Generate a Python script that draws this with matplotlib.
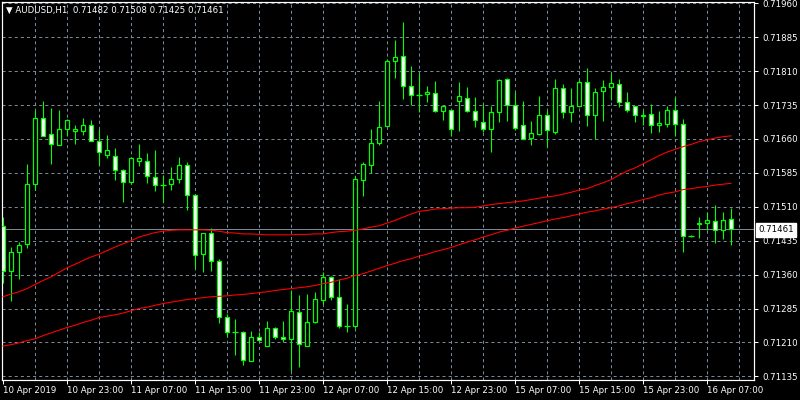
import matplotlib
matplotlib.use("Agg")
import matplotlib.pyplot as plt
from matplotlib.patches import Rectangle

# ---------------- data ----------------
symbol_title = "AUDUSD,H1  0.71482 0.71508 0.71425 0.71461"

opens = [0.71468, 0.71367, 0.71409, 0.71428, 0.71561, 0.71707, 0.71670, 0.71647, 0.71681, 0.71678,
         0.71678, 0.71690, 0.71656, 0.71624, 0.71623, 0.71592, 0.71564, 0.71611, 0.71612, 0.71576,
         0.71559, 0.71561, 0.71572, 0.71603, 0.71537, 0.71405, 0.71452, 0.71390, 0.71266, 0.71232,
         0.71232, 0.71170, 0.71223, 0.71203, 0.71243, 0.71223, 0.71218, 0.71277, 0.71203, 0.71255,
         0.71303, 0.71354, 0.71310, 0.71246, 0.71246, 0.71569, 0.71602, 0.71652, 0.71689, 0.71833,
         0.71843, 0.71778, 0.71758, 0.71760, 0.71761, 0.71723, 0.71725, 0.71743, 0.71750, 0.71723,
         0.71698, 0.71681, 0.71719, 0.71792, 0.71736, 0.71690, 0.71663, 0.71670, 0.71712, 0.71676,
         0.71772, 0.71719, 0.71732, 0.71787, 0.71712, 0.71767, 0.71774, 0.71781, 0.71742, 0.71732,
         0.71710, 0.71716, 0.71690, 0.71694, 0.71725, 0.71694, 0.71445, 0.71472, 0.71474, 0.71479,
         0.71459, 0.71482]
highs = [0.71487, 0.71422, 0.71433, 0.71604, 0.71724, 0.71743, 0.71728, 0.71725, 0.71704, 0.71692,
         0.71706, 0.71701, 0.71681, 0.71668, 0.71639, 0.71594, 0.71620, 0.71650, 0.71630, 0.71636,
         0.71581, 0.71599, 0.71621, 0.71608, 0.71539, 0.71452, 0.71463, 0.71394, 0.71272, 0.71261,
         0.71235, 0.71236, 0.71232, 0.71257, 0.71244, 0.71257, 0.71326, 0.71315, 0.71317, 0.71322,
         0.71366, 0.71357, 0.71350, 0.71294, 0.71579, 0.71609, 0.71681, 0.71743, 0.71837, 0.71879,
         0.71919, 0.71821, 0.71805, 0.71777, 0.71788, 0.71733, 0.71726, 0.71787, 0.71774, 0.71752,
         0.71738, 0.71734, 0.71792, 0.71794, 0.71765, 0.71743, 0.71699, 0.71756, 0.71725, 0.71792,
         0.71781, 0.71772, 0.71790, 0.71816, 0.71772, 0.71790, 0.71805, 0.71792, 0.71763, 0.71733,
         0.71725, 0.71738, 0.71721, 0.71732, 0.71752, 0.71705, 0.71448, 0.71488, 0.71499, 0.71515,
         0.71499, 0.71508]
lows = [0.71341, 0.71302, 0.71351, 0.71418, 0.71548, 0.71666, 0.71604, 0.71646, 0.71666, 0.71650,
        0.71669, 0.71655, 0.71603, 0.71618, 0.71569, 0.71520, 0.71561, 0.71600, 0.71562, 0.71544,
        0.71520, 0.71547, 0.71563, 0.71502, 0.71374, 0.71365, 0.71367, 0.71252, 0.71223, 0.71183,
        0.71159, 0.71169, 0.71213, 0.71202, 0.71217, 0.71210, 0.71147, 0.71156, 0.71202, 0.71252,
        0.71294, 0.71303, 0.71243, 0.71232, 0.71242, 0.71533, 0.71585, 0.71647, 0.71688, 0.71795,
        0.71749, 0.71736, 0.71720, 0.71741, 0.71719, 0.71703, 0.71667, 0.71678, 0.71719, 0.71687,
        0.71675, 0.71631, 0.71698, 0.71700, 0.71680, 0.71660, 0.71647, 0.71668, 0.71643, 0.71670,
        0.71706, 0.71698, 0.71731, 0.71689, 0.71661, 0.71700, 0.71747, 0.71730, 0.71719, 0.71698,
        0.71692, 0.71674, 0.71676, 0.71687, 0.71667, 0.71411, 0.71443, 0.71440, 0.71459, 0.71430,
        0.71439, 0.71425]
closes = [0.71367, 0.71410, 0.71425, 0.71561, 0.71707, 0.71667, 0.71650, 0.71681, 0.71703, 0.71681,
          0.71690, 0.71656, 0.71631, 0.71636, 0.71592, 0.71564, 0.71619, 0.71619, 0.71579, 0.71559,
          0.71558, 0.71572, 0.71603, 0.71537, 0.71403, 0.71452, 0.71390, 0.71266, 0.71232, 0.71233,
          0.71172, 0.71223, 0.71215, 0.71243, 0.71223, 0.71217, 0.71279, 0.71206, 0.71255, 0.71306,
          0.71354, 0.71310, 0.71246, 0.71246, 0.71572, 0.71605, 0.71652, 0.71687, 0.71832, 0.71841,
          0.71778, 0.71758, 0.71757, 0.71764, 0.71723, 0.71732, 0.71683, 0.71754, 0.71723, 0.71701,
          0.71681, 0.71719, 0.71790, 0.71736, 0.71685, 0.71661, 0.71674, 0.71712, 0.71679, 0.71772,
          0.71719, 0.71732, 0.71787, 0.71712, 0.71765, 0.71774, 0.71783, 0.71741, 0.71724, 0.71712,
          0.71714, 0.71690, 0.71696, 0.71725, 0.71694, 0.71445, 0.71445, 0.71474, 0.71481, 0.71459,
          0.71481, 0.71461]

ma_fast = [0.71311, 0.71317, 0.71322, 0.71329, 0.71338, 0.71347, 0.71355, 0.71365, 0.71375, 0.71383,
           0.71391, 0.71399, 0.71405, 0.71413, 0.71421, 0.71428, 0.71435, 0.71443, 0.71448, 0.71453,
           0.71456, 0.71458, 0.71459, 0.71459, 0.71459, 0.71459, 0.71458, 0.71456, 0.71453, 0.71452,
           0.71450, 0.71450, 0.71449, 0.71448, 0.71448, 0.71448, 0.71448, 0.71449, 0.71449, 0.71450,
           0.71450, 0.71453, 0.71455, 0.71456, 0.71458, 0.71461, 0.71465, 0.71468, 0.71474, 0.71480,
           0.71487, 0.71494, 0.71500, 0.71502, 0.71505, 0.71506, 0.71507, 0.71508, 0.71508, 0.71509,
           0.71512, 0.71515, 0.71517, 0.71519, 0.71521, 0.71523, 0.71526, 0.71529, 0.71532, 0.71534,
           0.71538, 0.71542, 0.71547, 0.71550, 0.71557, 0.71563, 0.71570, 0.71580, 0.71589, 0.71596,
           0.71605, 0.71614, 0.71623, 0.71631, 0.71637, 0.71643, 0.71648, 0.71654, 0.71658, 0.71662,
           0.71665, 0.71667]
ma_slow = [0.71202, 0.71205, 0.71209, 0.71214, 0.71218, 0.71225, 0.71231, 0.71237, 0.71243, 0.71248,
           0.71254, 0.71259, 0.71265, 0.71268, 0.71271, 0.71275, 0.71280, 0.71285, 0.71288, 0.71292,
           0.71296, 0.71299, 0.71302, 0.71305, 0.71307, 0.71309, 0.71311, 0.71312, 0.71313, 0.71315,
           0.71316, 0.71318, 0.71320, 0.71322, 0.71325, 0.71327, 0.71329, 0.71331, 0.71333, 0.71336,
           0.71340, 0.71343, 0.71348, 0.71352, 0.71358, 0.71362, 0.71368, 0.71374, 0.71380, 0.71385,
           0.71391, 0.71395, 0.71401, 0.71405, 0.71411, 0.71415, 0.71420, 0.71426, 0.71432, 0.71437,
           0.71443, 0.71448, 0.71454, 0.71458, 0.71463, 0.71467, 0.71471, 0.71475, 0.71479, 0.71483,
           0.71486, 0.71490, 0.71494, 0.71498, 0.71501, 0.71505, 0.71508, 0.71512, 0.71517, 0.71521,
           0.71526, 0.71530, 0.71536, 0.71540, 0.71543, 0.71548, 0.71550, 0.71553, 0.71555, 0.71558,
           0.71560, 0.71562]

time_labels = ["10 Apr 2019", "10 Apr 23:00", "11 Apr 07:00", "11 Apr 15:00", "11 Apr 23:00",
               "12 Apr 07:00", "12 Apr 15:00", "12 Apr 23:00", "15 Apr 07:00", "15 Apr 15:00",
               "15 Apr 23:00", "16 Apr 07:00"]
price_ticks = [0.71960, 0.71885, 0.71810, 0.71735, 0.71660, 0.71585, 0.71510,
               0.71435, 0.71360, 0.71285, 0.71210, 0.71135]
last_price = 0.71461

# ---------------- style ----------------
BG = "black"
FG = "white"
CANDLE = "#00FF00"
GRID = "#778899"
MA_COLOR = "#FF0000"
PX = 72 / 100.0  # one pixel in points
plt.rcParams["lines.scale_dashes"] = False
plt.rcParams["font.family"] = ["DejaVu Sans"]

W, H = 800, 400
fig = plt.figure(figsize=(W / 100, H / 100), dpi=100, facecolor=BG)
left_px, right_px, top_px, bottom_px = 2, 754, 2, 379.5
ax = fig.add_axes([left_px / W, (H - bottom_px) / H, (right_px - left_px) / W, (bottom_px - top_px) / H])
ax.set_facecolor(BG)

n = len(closes)
xs = list(range(n))
ax.set_xlim(-0.125, -0.125 + (right_px - left_px) / 8.0)
ax.set_ylim(0.71128, 0.71963)

# grid
for p in price_ticks:
    ax.axhline(p, color=GRID, lw=PX, dashes=(2.2, 2.2), zorder=0)
for k in range(4, 96, 4):
    ax.axvline(k, color=GRID, lw=PX, dashes=(2.2, 2.2), zorder=0)

# bid line
ax.axhline(last_price, color=GRID, lw=PX, zorder=1)

# candles
body_w = 0.5
for k in xs:
    o, h, l, c = opens[k], highs[k], lows[k], closes[k]
    ax.vlines(k, l, h, colors=CANDLE, lw=PX * 1.1, zorder=2)
    if abs(c - o) < 0.000015:
        ax.hlines(o, k - 0.32, k + 0.32, colors=CANDLE, lw=PX * 1.3, zorder=3)
    else:
        face = FG if c < o else BG
        ax.add_patch(Rectangle((k - body_w / 2, min(o, c)), body_w, abs(c - o),
                               facecolor=face, edgecolor=CANDLE, lw=PX * 1.2, zorder=3))

# moving averages
ax.plot(xs, ma_fast, color=MA_COLOR, lw=PX * 1.1, zorder=4)
ax.plot(xs, ma_slow, color=MA_COLOR, lw=PX * 1.1, zorder=4)

# axes frame
for s in ax.spines.values():
    s.set_color(FG)
    s.set_linewidth(PX * 1.2)

ax.yaxis.tick_right()
ax.set_yticks(price_ticks)
ax.set_yticklabels([f"{p:.5f}" for p in price_ticks])
ax.set_xticks(list(range(0, 8 * len(time_labels), 8)))
ax.set_xticklabels(time_labels)
for lab in ax.get_xticklabels():
    lab.set_ha("left")
ax.tick_params(axis="both", colors=FG, labelcolor=FG, labelsize=6.2, length=3, width=PX)
ax.tick_params(axis="y", pad=3)
ax.tick_params(axis="x", pad=1.5)

# bid price label
fig.text(758 / W, 1 - 230 / H, f"{last_price:.5f}", color="black", fontsize=6.2,
         ha="left", va="center",
         bbox=dict(boxstyle="square,pad=0.25", facecolor="white", edgecolor="white"))

# title
fig.text(6 / W, 1 - 10 / H, "\u25BC " + symbol_title, color=FG, fontsize=6.2, ha="left", va="center")

fig.savefig("out.png", dpi=100, facecolor=BG)
